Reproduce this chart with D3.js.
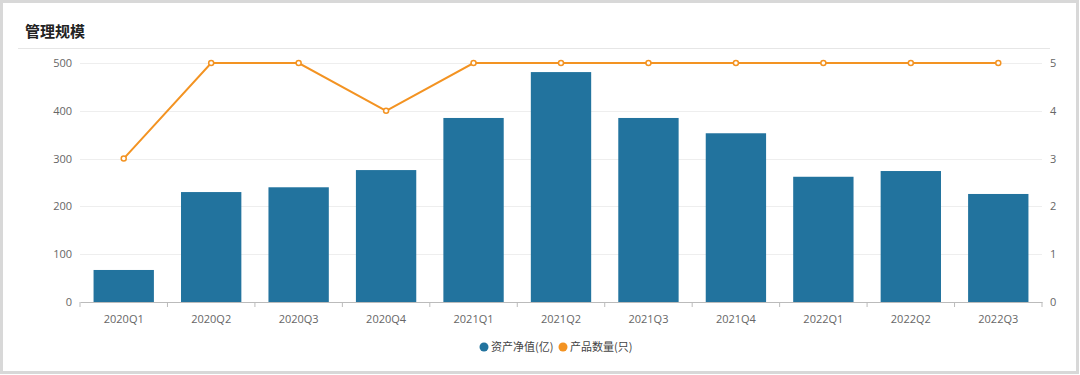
<!DOCTYPE html>
<html>
<head>
<meta charset="utf-8">
<script src="https://cdn.jsdelivr.net/npm/d3@7"></script>
<style>
body{margin:0;background:#fff;}
text{font-family:"Open Sans","Noto Sans CJK SC",sans-serif;}
</style>
</head>
<body>
<svg id="chart" width="1080" height="375"></svg>
<script>
//data
var quarters = ['2020Q1','2020Q2','2020Q3','2020Q4','2021Q1','2021Q2','2021Q3','2021Q4','2022Q1','2022Q2','2022Q3'];
var assets = [67,230,240,276,385,481,385,353,262,274,226];
var products = [3,5,5,4,5,5,5,5,5,5,5];
var leftTicks = [0,100,200,300,400,500];
var rightTicks = [0,1,2,3,4,5];

var svg = d3.select('#chart');
var blue = '#22739e', orange = '#f39322';

//frame + title
svg.append('rect').attr('x',1.5).attr('y',1.5).attr('width',1076).attr('height',371)
	.attr('fill','#fff').attr('stroke','#d8d8d8').attr('stroke-width',3);
svg.append('text').attr('x',25).attr('y',37).text('管理规模')
	.attr('font-size','15px').attr('font-weight','bold').attr('fill','#222')
	.style('font-family','"Noto Sans CJK SC",sans-serif');
svg.append('line').attr('x1',18).attr('x2',1050).attr('y1',48.5).attr('y2',48.5)
	.attr('stroke','#e6e6e6');

var plotLeft = 80, plotRight = 1042, plotTop = 63, plotBottom = 302;

var x = d3.scaleBand().domain(quarters).range([plotLeft,plotRight]).paddingInner(0.31).paddingOuter(0.155);
var xb = d3.scaleBand().domain(quarters).range([plotLeft,plotRight]);
var y = d3.scaleLinear().domain([0,500]).range([plotBottom,plotTop]);
var y2 = d3.scaleLinear().domain([0,5]).range([plotBottom,plotTop]);

//grid
svg.append('g').selectAll('line').data(leftTicks.slice(1)).enter().append('line')
	.attr('x1',plotLeft).attr('x2',plotRight)
	.attr('y1',function(d){return Math.round(y(d))+0.5}).attr('y2',function(d){return Math.round(y(d))+0.5})
	.attr('stroke','#eeeeee');

//bars
svg.append('g').selectAll('rect').data(assets).enter().append('rect')
	.attr('x',function(d,i){return x(quarters[i])})
	.attr('width',x.bandwidth())
	.attr('y',function(d){return y(d)})
	.attr('height',function(d){return plotBottom-y(d)})
	.attr('fill',blue);

//axes
var gx = svg.append('g').attr('transform','translate(0,'+plotBottom+')')
	.call(d3.axisBottom(xb).tickSize(0).tickPadding(13));
gx.select('.domain').attr('stroke','#bbb');
gx.selectAll('text').attr('font-size','11px').attr('fill','#666');
gx.selectAll('.sep').data(d3.range(quarters.length+1)).enter().append('line')
	.attr('x1',function(i){return plotLeft+i*xb.step()}).attr('x2',function(i){return plotLeft+i*xb.step()})
	.attr('y1',0).attr('y2',5).attr('stroke','#bbb');

var gl = svg.append('g').attr('transform','translate('+plotLeft+',0)')
	.call(d3.axisLeft(y).tickValues(leftTicks).tickSize(0).tickPadding(8));
gl.select('.domain').remove();
gl.selectAll('text').attr('font-size','11px').attr('fill','#666');

var gr = svg.append('g').attr('transform','translate('+plotRight+',0)')
	.call(d3.axisRight(y2).tickValues(rightTicks).tickFormat(d3.format('d')).tickSize(0).tickPadding(8));
gr.select('.domain').remove();
gr.selectAll('text').attr('font-size','11px').attr('fill','#666');

//line
var cx = function(i){return xb(quarters[i])+xb.bandwidth()/2};
var line = d3.line().x(function(d,i){return cx(i)}).y(function(d){return y2(d)});
svg.append('path').datum(products).attr('d',line)
	.attr('fill','none').attr('stroke',orange).attr('stroke-width',2);
svg.append('g').selectAll('circle').data(products).enter().append('circle')
	.attr('cx',function(d,i){return cx(i)}).attr('cy',function(d){return y2(d)})
	.attr('r',2.5).attr('fill','#fff').attr('stroke',orange).attr('stroke-width',1.5);

//legend
var legend = [{name:'资产净值(亿)',color:blue,x:484},{name:'产品数量(只)',color:orange,x:563}];
var lg = svg.append('g').selectAll('g').data(legend).enter().append('g');
lg.append('circle').attr('cx',function(d){return d.x}).attr('cy',347).attr('r',4.5).attr('fill',function(d){return d.color});
lg.append('text').attr('x',function(d){return d.x+7}).attr('y',351).text(function(d){return d.name})
	.attr('font-size','11px').attr('fill','#444').style('font-family','"Noto Sans CJK SC",sans-serif');
</script>
</body>
</html>
